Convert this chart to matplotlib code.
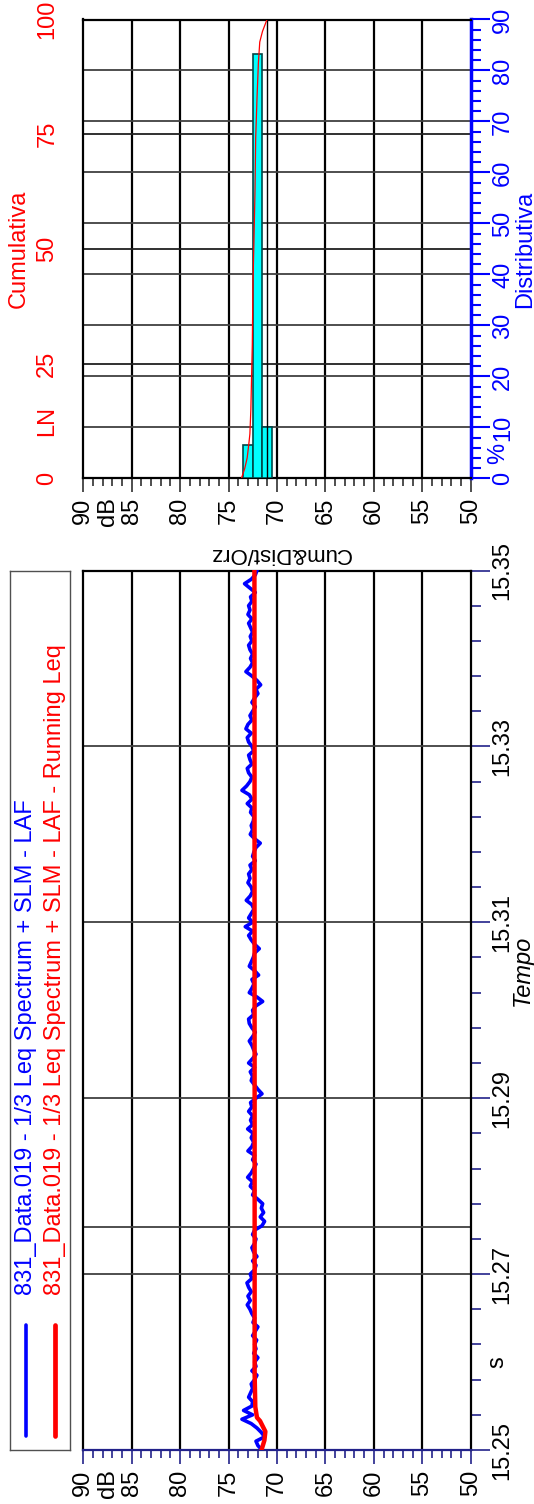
import numpy as np
import matplotlib.pyplot as plt
from matplotlib.ticker import MultipleLocator, FixedLocator

plt.rcParams.update({"font.family": ["Liberation Sans", "DejaVu Sans"], "font.size": 17})

# ---- data ----
# LAF, dB, evenly spaced from 15.25 to 15.35
laf_db = [
    71.55, 71.97, 72.17, 71.28, 71.62, 72.07, 72.66, 73.62, 72.52, 73.45,
    72.59, 72.52, 72.93, 72.73, 72.52, 72.66, 72.31, 72.07, 72.59, 72.17,
    72.31, 71.97, 72.41, 72.17, 72.31, 72.10, 72.52, 72.24, 71.97, 72.48,
    72.31, 72.59, 72.79, 73.07, 72.76, 73.00, 72.66, 72.93, 73.10, 72.59,
    72.76, 72.31, 72.17, 72.52, 72.07, 72.41, 72.59, 72.31, 72.17, 72.52,
    72.31, 71.55, 71.28, 71.73, 71.38, 71.62, 71.48, 71.97, 72.52, 72.31,
    72.76, 72.52, 73.03, 72.66, 72.41, 72.17, 72.52, 72.31, 73.00, 72.59,
    72.41, 72.66, 72.45, 73.03, 72.52, 72.73, 72.52, 72.93, 72.59, 72.73,
    72.17, 71.55, 71.97, 72.31, 72.66, 72.52, 72.76, 72.31, 72.93, 72.52,
    72.17, 72.41, 72.59, 72.86, 72.52, 72.24, 72.59, 72.86, 72.93, 72.41,
    72.52, 72.17, 71.48, 72.07, 72.86, 72.59, 72.38, 72.59, 71.90, 72.31,
    72.86, 72.66, 72.45, 72.31, 71.83, 72.31, 72.66, 72.93, 72.52, 73.28,
    72.52, 72.93, 72.66, 72.38, 72.59, 73.17, 72.76, 72.52, 72.66, 73.00,
    72.79, 72.93, 72.59, 72.79, 72.24, 72.52, 72.38, 72.17, 71.73, 72.31,
    72.76, 72.52, 72.66, 72.45, 72.38, 72.73, 72.59, 73.07, 72.59, 72.86,
    73.62, 73.14, 72.79, 72.59, 72.93, 73.07, 72.59, 72.79, 72.93, 72.41,
    72.59, 72.93, 73.07, 72.66, 73.21, 73.00, 72.59, 72.79, 72.52, 72.24,
    72.59, 72.31, 71.97, 72.17, 71.69, 72.07, 72.59, 73.21, 72.79, 72.52,
    72.73, 72.52, 72.79, 72.93, 72.59, 72.76, 72.52, 72.73, 72.93, 72.59,
    73.00, 72.79, 72.93, 72.59, 72.73, 72.24, 72.79, 73.35, 72.66, 72.24,
    72.07,
]
leq_time = [15.2500, 15.2511, 15.2521, 15.2533, 15.2537, 15.2549, 15.2587,
            15.2700, 15.2900, 15.3100, 15.3300, 15.3500]
leq_db = [71.60, 71.30, 71.20, 71.75, 72.07, 72.24, 72.31,
          72.31, 72.31, 72.32, 72.32, 72.33]

hist_db = [73, 72, 71]
hist_pct = [6.5, 83.3, 10.1]
cum_db = [73.68, 73.33, 73.08, 72.91, 72.80, 72.70, 72.63, 72.55, 72.48,
          72.38, 72.27, 72.20, 72.06, 71.92, 71.78, 71.50, 71.07]
cum_pct = [0, 2.2, 4.5, 7.5, 9.7, 15, 21.7, 29.2, 42.7,
           51.7, 62.9, 74.2, 83.1, 90.6, 95.1, 97.4, 99.8]
marker_db = 71.0

db_ticks = [90, 85, 80, 75, 70, 65, 60, 55, 50]
time_ticks = [15.25, 15.27, 15.29, 15.31, 15.33, 15.35]
time_grid = [15.27, 15.2753, 15.29, 15.31, 15.33]
dist_ticks = [0, 10, 20, 30, 40, 50, 60, 70, 80, 90]
cum_ticks = [0, 25, 50, 75, 100]

blue_txt = "831_Data.019 - 1/3 Leq Spectrum + SLM - LAF"
red_txt = "831_Data.019 - 1/3 Leq Spectrum + SLM - LAF - Running Leq"

# ---- layout (pixels, origin top-left) ----
W, H = 534, 1504
fig = plt.figure(figsize=(W / 100, H / 100), dpi=100)


def box(x0, y0, x1, y1):
    return [x0 / W, 1 - y1 / H, (x1 - x0) / W, (y1 - y0) / H]


ax_m = fig.add_axes(box(83.3, 570.5, 470.7, 1450))
ax_h = fig.add_axes(box(83.3, 19.5, 470.7, 478.5))
ax_l = fig.add_axes(box(10, 570.5, 70, 1450))
ax_c = ax_h.twinx()

NAVY = "#22228a"
FS = 17

# ---- main time history ----
laf_time = np.linspace(time_ticks[0], time_ticks[-1], len(laf_db))
ax_m.set_xlim(db_ticks[0], db_ticks[-1])
ax_m.set_ylim(time_ticks[0], time_ticks[-1])
for d in db_ticks[1:-1]:
    ax_m.axvline(d, color="black", lw=1.6, zorder=1)
for t in time_grid:
    ax_m.axhline(t, color="#404040", lw=1.3, zorder=1)
ax_m.plot(laf_db, laf_time, color="blue", lw=2.6, zorder=3)
ax_m.plot(leq_db, leq_time, color="red", lw=3.2, zorder=4)

ax_m.set_xticks(db_ticks)
ax_m.set_xticklabels([str(d) for d in db_ticks], rotation=90)
ax_m.xaxis.set_minor_locator(MultipleLocator(1))
ax_m.tick_params(axis="x", which="major", length=10, width=1.2, color=NAVY, pad=4, labelsize=FS)
ax_m.tick_params(axis="x", which="minor", length=6, width=1.2, color=NAVY)

ax_m.yaxis.tick_right()
ax_m.set_yticks(time_ticks)
ax_m.set_yticklabels([f"{t:.2f}" for t in time_ticks], rotation=90, va="center")
ax_m.yaxis.set_minor_locator(FixedLocator(np.linspace(time_ticks[0], time_ticks[-1], 26)))
ax_m.tick_params(axis="y", which="major", length=14, width=1.2, color=NAVY, pad=1, labelsize=FS)
ax_m.tick_params(axis="y", which="minor", length=7, width=1.2, color=NAVY)

for s in ax_m.spines.values():
    s.set_linewidth(1.6)
ax_m.spines["bottom"].set_color(NAVY)

ax_m.annotate("dB", xy=(87.5, 0), xycoords=("data", "axes fraction"), xytext=(0, -13.5),
              textcoords="offset points", rotation=90, ha="center", va="top", fontsize=FS)
ax_m.annotate("s", xy=(1, 15.26), xycoords=("axes fraction", "data"), xytext=(11, 0),
              textcoords="offset points", rotation=90, ha="left", va="center", fontsize=FS)
ax_m.annotate("Tempo", xy=(1, 15.3045), xycoords=("axes fraction", "data"), xytext=(29, 0),
              textcoords="offset points", rotation=90, ha="left", va="center",
              fontsize=FS, style="italic")
fig.text(280 / W, 1 - 553 / H, "Cum&Dist/Orz", rotation=180, ha="center", va="center", fontsize=16)

# ---- legend box ----
ax_l.set_xlim(0, 1)
ax_l.set_ylim(0, 1)
ax_l.set_xticks([])
ax_l.set_yticks([])
for s in ax_l.spines.values():
    s.set_color("#505050")
    s.set_linewidth(1.0)
for xc, col, lw, txt in [(0.26, "blue", 2.6, blue_txt), (0.75, "red", 3.4, red_txt)]:
    ax_l.plot([xc, xc], [0.016, 0.142], color=col, lw=lw, solid_capstyle="round")
    ax_l.text(xc, 0.176, txt, color=col, rotation=90, ha="center", va="bottom", fontsize=FS)

# ---- distribution / cumulative panel ----
ax_h.set_xlim(db_ticks[0], db_ticks[-1])
ax_h.set_ylim(dist_ticks[0], dist_ticks[-1])
for d in db_ticks[1:-1]:
    ax_h.axvline(d, color="black", lw=1.6, zorder=1)
for v in dist_ticks[1:-1]:
    ax_h.axhline(v, color="#404040", lw=1.3, zorder=1)
for c in cum_ticks[1:-1]:
    ax_h.axhline(c * dist_ticks[-1] / cum_ticks[-1], color="#202020", lw=1.3, zorder=1)
ax_h.bar(hist_db, hist_pct, width=1.0, color="#00ffff", edgecolor="#004848", lw=1.2, zorder=3)
ax_h.axvline(marker_db, color="black", lw=1.0, zorder=4)

ax_h.set_xticks(db_ticks)
ax_h.set_xticklabels([str(d) for d in db_ticks], rotation=90)
ax_h.xaxis.set_minor_locator(MultipleLocator(1))
ax_h.tick_params(axis="x", which="major", length=10, width=1.2, color="#303030", pad=4, labelsize=FS)
ax_h.tick_params(axis="x", which="minor", length=6, width=1.2, color="#303030")

ax_h.yaxis.tick_right()
ax_h.set_yticks(dist_ticks)
ax_h.set_yticklabels([str(v) for v in dist_ticks], rotation=90, va="center")
ax_h.yaxis.set_minor_locator(MultipleLocator(2))
ax_h.tick_params(axis="y", which="major", length=14, width=1.5, color="blue", pad=1.5,
                 labelsize=FS, labelcolor="blue")
ax_h.tick_params(axis="y", which="minor", length=7, width=1.5, color="blue")
ax_h.yaxis.set_label_position("right")
ax_h.set_ylabel("Distributiva", color="blue", rotation=90, fontsize=FS, labelpad=0)
for s in ax_h.spines.values():
    s.set_linewidth(1.6)
ax_h.spines["right"].set_color("blue")
ax_h.spines["right"].set_linewidth(2.5)

ax_h.annotate("dB", xy=(87.5, 0), xycoords=("data", "axes fraction"), xytext=(0, -13.5),
              textcoords="offset points", rotation=90, ha="center", va="top", fontsize=FS)
ax_h.annotate("%", xy=(1, 5), xycoords=("axes fraction", "data"), xytext=(11.5, 0),
              textcoords="offset points", rotation=90, ha="left", va="center",
              fontsize=FS, color="blue")

ax_c.set_ylim(cum_ticks[0], cum_ticks[-1])
ax_c.plot(cum_db, cum_pct, color="red", lw=0.9, zorder=5)
for s in ax_c.spines.values():
    s.set_visible(False)
ax_c.yaxis.tick_left()
ax_c.yaxis.set_label_position("left")
ax_c.set_yticks(cum_ticks)
ax_c.set_yticklabels([str(c) for c in cum_ticks], rotation=90, va="center")
ax_c.tick_params(axis="y", length=0, pad=18, labelsize=FS, labelcolor="red")
ax_c.set_ylabel("Cumulativa", color="red", fontsize=FS, labelpad=5)
ax_c.annotate("LN", xy=(0, 12.5), xycoords=("axes fraction", "data"), xytext=(-18, 0),
              textcoords="offset points", rotation=90, ha="right", va="center",
              fontsize=FS, color="red")

fig.savefig("out.png", dpi=100)
